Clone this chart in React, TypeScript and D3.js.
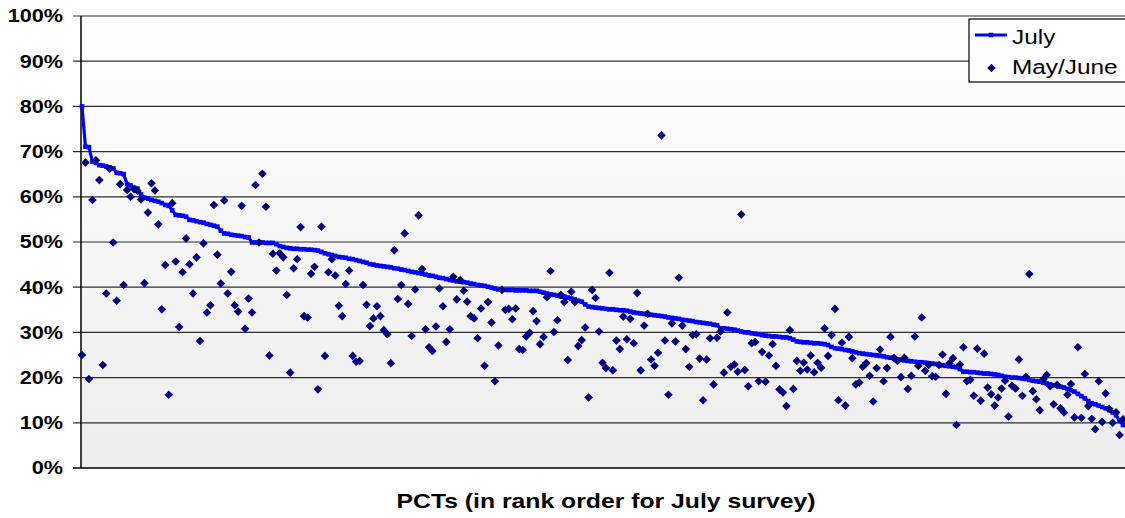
import { useEffect, useRef } from 'react';
import * as d3 from 'd3';

// July survey, PCTs in rank order (percent)
const july = [
  80.0, 71.1, 71.0, 67.8, 67.5, 67.0, 66.9, 66.7, 66.5, 66.3,
  65.3, 65.2, 65.0, 62.8, 62.5, 62.0, 61.8, 60.5, 59.8, 59.6,
  59.3, 59.1, 58.9, 58.6, 58.2, 58.0, 57.0, 56.0, 55.9, 55.8,
  55.6, 54.9, 54.8, 54.6, 54.4, 54.3, 54.0, 53.8, 53.6, 53.4,
  52.5, 51.9, 51.8, 51.6, 51.5, 51.4, 51.3, 51.1, 51.0, 49.9,
  49.9, 49.9, 49.9, 49.8, 49.8, 49.8, 49.5, 49.1, 48.9, 48.7,
  48.6, 48.5, 48.5, 48.4, 48.4, 48.3, 48.3, 48.2, 48.1, 47.8,
  47.5, 47.3, 47.1, 46.9, 46.7, 46.6, 46.5, 46.3, 46.2, 46.0,
  45.8, 45.6, 45.4, 45.1, 45.0, 44.8, 44.7, 44.6, 44.5, 44.4,
  44.2, 44.1, 43.9, 43.8, 43.6, 43.4, 43.3, 43.1, 43.0, 42.8,
  42.6, 42.5, 42.3, 42.1, 42.0, 41.8, 41.6, 41.5, 41.3, 41.2,
  41.1, 41.0, 40.8, 40.7, 40.5, 40.4, 40.3, 40.1, 39.9, 39.7,
  39.5, 39.5, 39.4, 39.4, 39.4, 39.3, 39.3, 39.3, 39.3, 39.2, 39.2,
  39.2, 39.0, 38.8, 38.6, 38.4, 38.3, 38.1, 38.0, 37.9, 37.7,
  37.5, 37.3, 37.0, 36.8, 36.2, 35.7, 35.6, 35.5, 35.4, 35.3,
  35.2, 35.1, 35.1, 35.0, 34.9, 34.9, 34.8, 34.6, 34.4, 34.3,
  34.2, 34.1, 34.0, 33.9, 33.8, 33.7, 33.6, 33.5, 33.3, 33.2,
  33.1, 33.0, 32.8, 32.7, 32.6, 32.5, 32.3, 32.2, 32.1, 32.0,
  31.9, 31.7, 31.6, 30.9, 30.9, 30.8, 30.7, 30.6, 30.4, 30.2,
  30.0, 30.0, 29.8, 29.7, 29.6, 29.4, 29.3, 29.2, 29.1, 29.1,
  29.0, 28.9, 28.9, 28.7, 28.4, 28.0, 27.9, 27.8, 27.8, 27.7,
  27.6, 27.6, 27.5, 27.4, 27.2, 26.8, 26.5, 26.4, 26.3, 26.1,
  26.0, 25.8, 25.6, 25.4, 25.3, 25.2, 25.1, 25.0, 24.9, 24.8,
  24.7, 24.5, 24.4, 24.2, 24.0, 23.9, 23.8, 23.7, 23.6, 23.5,
  23.4, 23.4, 23.3, 23.2, 23.1, 23.0, 22.8, 22.7, 22.6, 22.5,
  22.4, 22.3, 21.9, 21.3, 21.3, 21.2, 21.2, 21.1, 21.0, 20.9,
  20.9, 20.8, 20.7, 20.6, 20.4, 20.2, 20.1, 20.0, 20.0, 19.9,
  19.8, 19.7, 19.5, 19.3, 19.2, 19.1, 18.9, 18.7, 18.5, 18.3,
  18.2, 18.0, 17.8, 17.5, 17.2, 16.9, 16.4, 15.9, 15.4, 14.8,
  14.3, 14.1, 13.8, 13.5, 13.2, 12.8, 12.3, 11.7, 10.4, 9.5,
];

// May/June survey, same PCTs (percent)
const mayJune = [
  25.0, 67.6, 19.7, 59.3, 68.1, 63.7, 22.8, 38.6, 66.2, 49.9,
  37.0, 62.8, 40.5, 61.5, 60.0, 61.7, 61.3, 59.4, 40.9, 56.5,
  63.0, 61.4, 53.9, 35.1, 44.9, 16.2, 58.6, 45.7, 31.2, 43.3,
  50.8, 45.1, 38.6, 46.6, 28.1, 49.7, 34.4, 36.0, 58.2, 47.2,
  40.8, 59.2, 38.6, 43.4, 36.0, 34.6, 58.0, 30.8, 37.5, 34.4,
  62.6, 49.9, 65.1, 57.8, 24.9, 47.4, 43.7, 47.5, 46.6, 38.3,
  21.1, 44.2, 46.2, 53.3, 33.6, 33.3, 43.0, 44.5, 17.4, 53.4,
  24.8, 43.3, 46.2, 42.6, 35.9, 33.6, 40.7, 43.7, 24.8, 23.5,
  23.7, 40.5, 36.1, 31.4, 33.1, 35.8, 33.6, 30.5, 29.6, 23.2,
  48.2, 37.4, 40.5, 51.9, 36.3, 29.2, 39.5, 55.9, 44.0, 30.7,
  26.7, 25.9, 31.3, 39.7, 35.8, 27.9, 30.7, 42.3, 37.3, 41.6,
  39.2, 36.8, 33.6, 33.1, 28.7, 35.3, 22.6, 36.7, 32.2, 19.2,
  27.1, 39.4, 35.0, 35.2, 32.9, 35.3, 26.3, 26.1, 29.1, 29.9,
  34.7, 32.5, 27.4, 29.0, 37.8, 43.6, 30.1, 32.7, 38.3, 36.7,
  23.9, 39.0, 36.7, 27.0, 28.3, 31.1, 15.6, 39.4, 37.6, 30.2,
  23.3, 22.1, 43.2, 21.6, 28.2, 26.3, 33.5, 28.5, 33.0, 27.6,
  38.7, 21.6, 31.5, 34.1, 24.0, 22.6, 25.5, 73.6, 28.2, 16.2,
  32.0, 28.0, 42.1, 31.5, 26.3, 22.4, 29.4, 29.6, 24.2, 15.0,
  24.0, 28.7, 18.5, 28.8, 30.2, 21.1, 34.4, 22.4, 22.9, 21.3,
  56.1, 21.7, 18.1, 27.6, 27.9, 19.2, 25.7, 19.1, 24.9, 27.4,
  22.6, 17.4, 16.7, 13.7, 30.5, 17.5, 23.7, 21.5, 23.3, 21.8,
  24.9, 21.2, 23.3, 22.2, 30.9, 24.8, 29.4, 35.2, 15.0, 27.7,
  13.8, 29.0, 24.3, 18.5, 18.9, 22.4, 23.2, 20.4, 14.7, 22.1,
  26.2, 19.2, 22.1, 29.0, 24.4, 23.7, 20.1, 24.4, 17.5, 20.4,
  29.1, 22.6, 33.3, 21.5, 22.8, 20.3, 20.2, 22.8, 25.1, 16.4,
  23.2, 24.3, 9.5, 22.9, 26.7, 19.2, 19.5, 16.0, 26.4, 14.9,
  25.3, 17.8, 16.3, 13.8, 15.6, 17.6, 19.3, 11.4, 18.2, 17.6,
  24.0, 16.0, 20.2, 42.9, 17.0, 15.2, 12.8, 19.6, 20.6, 18.1,
  14.1, 18.4, 13.2, 12.3, 16.2, 18.6, 11.2, 26.7, 11.1, 20.8,
  13.7, 10.9, 8.6, 19.2, 10.2, 16.5, 13.1, 10.0, 12.3, 7.3,
  10.8,
];

const yTicks = [0, 10, 20, 30, 40, 50, 60, 70, 80, 90, 100];
const seriesNames = ['July', 'May/June'];
const xTitle = 'PCTs (in rank order for July survey)';

const W = 1125, H = 518;
const FONT = '"Liberation Sans", Arial, sans-serif';

export default function App() {
  const svgRef = useRef<SVGSVGElement>(null);

  useEffect(() => {
    const svg = d3.select(svgRef.current);
    svg.selectAll('*').remove();

    const left = 81, top = 16, bottom = 468, right = 1130;

    const x = d3.scaleLinear().domain([0, mayJune.length - 1]).range([82, 1123]);
    const y = d3.scaleLinear().domain([0, 100]).range([bottom, top]);

    const defs = svg.append('defs');
    const grad = defs.append('linearGradient').attr('id', 'plotbg')
      .attr('x1', 0).attr('y1', 0).attr('x2', 0).attr('y2', 1);
    grad.append('stop').attr('offset', '0%').attr('stop-color', '#ffffff');
    grad.append('stop').attr('offset', '100%').attr('stop-color', '#ededed');

    // plot background
    svg.append('rect')
      .attr('x', left).attr('y', top)
      .attr('width', right - left).attr('height', bottom - top)
      .attr('fill', 'url(#plotbg)');

    // gridlines + tick marks + labels
    yTicks.forEach(t => {
      svg.append('line')
        .attr('x1', left - 8).attr('x2', right)
        .attr('y1', y(t)).attr('y2', y(t))
        .attr('stroke', t === 0 ? '#000' : '#2e2e2e').attr('stroke-width', t === 0 ? 1.5 : 1.2);
      svg.append('text')
        .attr('transform', `translate(63,${y(t)}) scale(1.2,1)`)
        .attr('text-anchor', 'end')
        .attr('dy', '0.36em')
        .attr('font-family', FONT).attr('font-weight', 'bold').attr('font-size', 18)
        .attr('fill', '#000')
        .text(`${t}%`);
    });

    // y axis line
    svg.append('line')
      .attr('x1', left).attr('x2', left)
      .attr('y1', top).attr('y2', bottom)
      .attr('stroke', '#000').attr('stroke-width', 1.5);

    // July line
    const line = d3.line<number>()
      .x((_, i) => x(i))
      .y(d => y(d));
    svg.append('path')
      .datum(july)
      .attr('d', line)
      .attr('fill', 'none')
      .attr('stroke', '#0000ff')
      .attr('stroke-width', 3.2)
      .attr('stroke-linejoin', 'round');
    svg.append('g').selectAll('rect')
      .data(july)
      .join('rect')
      .attr('x', (_, i) => x(i) - 2.3).attr('y', d => y(d) - 2.3)
      .attr('width', 4.6).attr('height', 4.6)
      .attr('fill', '#0000ff');

    // May/June diamonds
    const r = 4.3;
    const diamond = `M0,${-r}L${r},0L0,${r}L${-r},0Z`;
    svg.append('g').selectAll('path')
      .data(mayJune)
      .join('path')
      .attr('d', diamond)
      .attr('transform', (d, i) => `translate(${x(i)},${y(d)})`)
      .attr('fill', '#000080');

    // x axis title
    svg.append('text')
      .attr('transform', `translate(606,508) scale(1.27,1)`)
      .attr('text-anchor', 'middle')
      .attr('font-family', FONT).attr('font-weight', 'bold').attr('font-size', 19.5)
      .attr('fill', '#000')
      .text(xTitle);

    // legend
    const lg = svg.append('g');
    lg.append('rect')
      .attr('x', 969).attr('y', 19).attr('width', 170).attr('height', 63)
      .attr('fill', '#fff').attr('stroke', '#000').attr('stroke-width', 1.2);
    lg.append('line')
      .attr('x1', 975).attr('x2', 1007).attr('y1', 35).attr('y2', 35)
      .attr('stroke', '#0000ff').attr('stroke-width', 3);
    lg.append('rect')
      .attr('x', 988.7).attr('y', 32.7).attr('width', 4.6).attr('height', 4.6)
      .attr('fill', '#0000ff');
    lg.append('path')
      .attr('d', diamond)
      .attr('transform', 'translate(991.5,68)')
      .attr('fill', '#000080');
    seriesNames.forEach((name, i) => {
      lg.append('text')
        .attr('transform', `translate(1012,${i === 0 ? 44 : 74}) scale(1.25,1)`)
        .attr('font-family', FONT).attr('font-size', 19.5)
        .attr('fill', '#000')
        .text(name);
    });
  }, []);

  return (
    <svg
      ref={svgRef}
      width={W}
      height={H}
      style={{ position: 'absolute', left: 0, top: 0, background: '#fff' }}
    />
  );
}
